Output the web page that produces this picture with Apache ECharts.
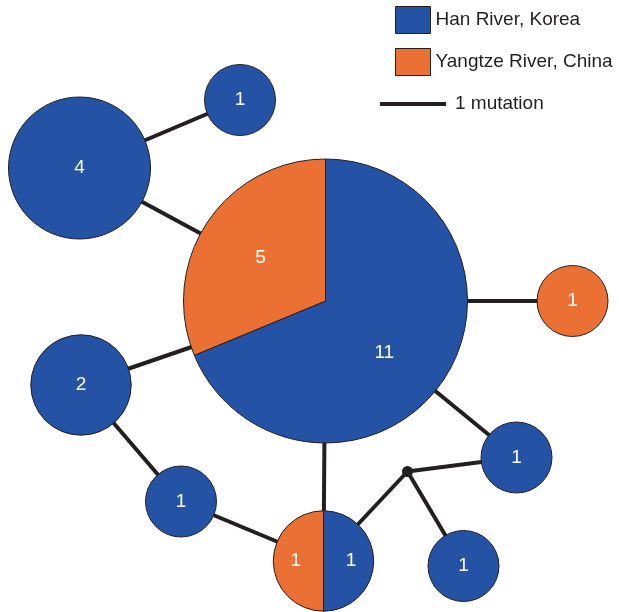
<!DOCTYPE html>
<html>
<head>
    <meta charset="utf-8">
    <title>Haplotype network</title>
    <script src="https://cdn.jsdelivr.net/npm/echarts@6/dist/echarts.min.js"></script>
    <style>
        html, body { margin: 0; padding: 0; background: #fff; }
    </style>
</head>
<body>
<div id="main" style="width: 619px;height:612px;"></div>
<script>
    // haplotype nodes: layout position and sample counts per river
    const nodeNames = ['H1', 'H2', 'H3', 'H4', 'H5', 'H6', 'H7', 'H8', 'H9', 'mv1'];
    const nodeX = [325.5, 79.5, 240, 572.5, 81, 181, 323.5, 516.5, 463.5, 407.5];
    const nodeY = [301, 168, 100, 301, 385, 501.5, 561, 457.5, 566, 471.5];
    const hanCounts = [11, 4, 1, 0, 2, 1, 1, 1, 1, 0];
    const yangtzeCounts = [5, 0, 0, 1, 0, 0, 1, 0, 0, 0];
    // one mutation step per link
    const edges = [
        ['H2', 'H3'], ['H2', 'H1'], ['H1', 'H4'], ['H1', 'H5'], ['H5', 'H6'],
        ['H6', 'H7'], ['H1', 'H7'], ['H1', 'H8'], ['mv1', 'H7'], ['mv1', 'H8'], ['mv1', 'H9']
    ];
    const seriesNames = ['Han River, Korea', 'Yangtze River, China'];
    const colors = ['#2452a4', '#ea7034'];

    const ink = '#231f20';
    const font = '"Liberation Sans", Arial, sans-serif';
    const unitR = 35.5;

    var myChart = echarts.init(document.getElementById('main'));

    const pos = (name) => {
        const i = nodeNames.indexOf(name);
        return [nodeX[i], nodeY[i]];
    };
    const nodeData = nodeNames.map((n, i) => [nodeX[i], nodeY[i], hanCounts[i], yangtzeCounts[i]]);

    // which = 0 -> Han part (clockwise from top), 1 -> Yangtze part (counter-clockwise from top)
    const makeRender = (which) => (params, api) => {
        const han = api.value(2), yz = api.value(3);
        const own = which === 0 ? han : yz;
        if (!own) return null;
        const total = han + yz;
        const c = api.coord([api.value(0), api.value(1)]);
        const r = unitR * Math.sqrt(total);
        const children = [];
        let lx = c[0], ly = c[1];
        if (own === total) {
            children.push({
                type: 'circle',
                shape: { cx: c[0], cy: c[1], r: r },
                style: { fill: colors[which], stroke: ink, lineWidth: 1 }
            });
        } else {
            const span = Math.PI * 2 * own / total;
            const start = which === 0 ? -Math.PI / 2 : -Math.PI / 2 - span;
            const end = start + span;
            children.push({
                type: 'sector',
                shape: { cx: c[0], cy: c[1], r: r, r0: 0, startAngle: start, endAngle: end, clockwise: true },
                style: { fill: colors[which], stroke: ink, lineWidth: 1 }
            });
            // nudge big-slice labels a little further round, as in the original
            const mid = (start + end) / 2 + (span > Math.PI * 1.2 ? 0.13 : 0);
            lx = c[0] + Math.cos(mid) * r * 0.55;
            ly = c[1] + Math.sin(mid) * r * 0.55;
        }
        children.push({
            type: 'text',
            style: {
                x: lx, y: ly, text: String(own), fill: '#fff',
                font: '19px ' + font, align: 'center', verticalAlign: 'middle'
            }
        });
        return { type: 'group', children: children };
    };

    const option = {
        animation: false,
        grid: { left: 0, right: 0, top: 0, bottom: 0 },
        xAxis: { type: 'value', min: 0, max: 619, show: false },
        yAxis: { type: 'value', min: 0, max: 612, inverse: true, show: false },
        legend: {
            orient: 'vertical',
            left: 390,
            top: 1,
            itemWidth: 35,
            itemHeight: 27,
            itemGap: 14,
            icon: 'rect',
            itemStyle: { borderColor: ink, borderWidth: 1 },
            textStyle: { fontSize: 19, color: ink, fontFamily: font },
            data: seriesNames
        },
        graphic: [
            {
                type: 'line',
                shape: { x1: 380, y1: 104, x2: 446, y2: 104 },
                style: { stroke: ink, lineWidth: 4 }
            },
            {
                type: 'text',
                style: {
                    x: 455, y: 104, text: '1 mutation', fill: ink,
                    font: '19px ' + font, verticalAlign: 'middle'
                }
            }
        ],
        series: [
            {
                type: 'lines',
                coordinateSystem: 'cartesian2d',
                silent: true,
                z: 1,
                lineStyle: { color: ink, width: 4, opacity: 1 },
                data: edges.map(e => ({ coords: [pos(e[0]), pos(e[1])] }))
            },
            {
                name: seriesNames[0],
                type: 'custom',
                z: 2,
                itemStyle: { color: colors[0] },
                renderItem: makeRender(0),
                encode: { x: 0, y: 1 },
                data: nodeData
            },
            {
                name: seriesNames[1],
                type: 'custom',
                z: 2,
                itemStyle: { color: colors[1] },
                renderItem: makeRender(1),
                encode: { x: 0, y: 1 },
                data: nodeData
            },
            {
                // median vectors (unsampled)
                type: 'scatter',
                z: 3,
                symbolSize: 11,
                itemStyle: { color: ink, opacity: 1 },
                data: nodeData.filter(d => d[2] + d[3] === 0).map(d => [d[0], d[1]])
            }
        ]
    };
    myChart.setOption(option);
</script>
</body>
</html>
